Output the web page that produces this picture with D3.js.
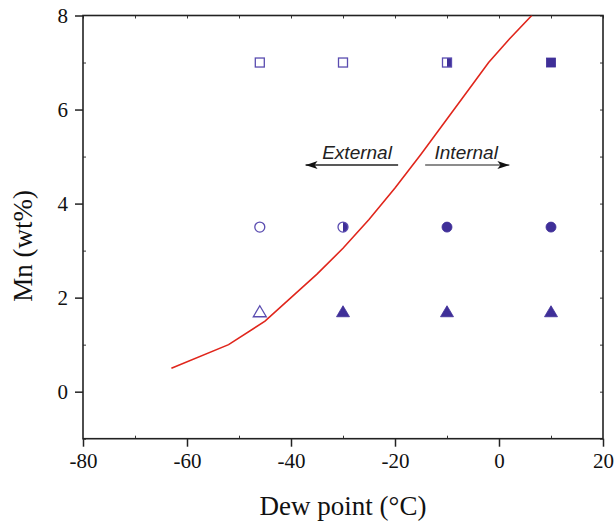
<!DOCTYPE html>
<html><head><meta charset="utf-8">
<script src="https://cdn.jsdelivr.net/npm/d3@7/dist/d3.min.js"></script>
<style>body{margin:0;background:#fff}svg{display:block}</style>
</head><body><svg id="c" width="614" height="521"></svg>
<script>
// Boundary curve (dew point vs Mn)
const curveX = [-63, -52, -45, -40, -35, -30, -25, -20, -15, -10, -5, -2, 2, 6.3];
const curveY = [0.5, 1.0, 1.5, 2.0, 2.5, 3.05, 3.66, 4.33, 5.05, 5.8, 6.55, 7.0, 7.5, 8.0];
// Experimental points
const dewPoints = [-46, -30, -10, 10];
const mnLevels = [7, 3.5, 1.7];
const shapes = ["square", "circle", "triangle"];
// fill state per level: 0 open, 1 half (right), 2 filled
const fillStates = [
  [0, 0, 1, 2],
  [0, 1, 2, 2],
  [0, 2, 2, 2]
];
const xTicks = [-80, -60, -40, -20, 0, 20];
const yTicks = [0, 2, 4, 6, 8];
const xMinor = [-70, -50, -30, -10, 10];
const yMinor = [-1, 1, 3, 5, 7];

const svg = d3.select("#c");
const L = 83, R = 603, T = 15.5, B = 438.7;
const x = d3.scaleLinear().domain([-80, 20]).range([L, R]);
const y = d3.scaleLinear().domain([-1, 8]).range([B, T]);
const purple = "#3f2f98";
const serif = "'Liberation Serif','Times New Roman',serif";
const fmt = d => String(d);

// defs
const defs = svg.append("defs");
defs.append("clipPath").attr("id", "plotclip").append("rect")
  .attr("x", L).attr("y", T).attr("width", R - L).attr("height", B - T);
defs.append("marker").attr("id", "ah").attr("viewBox", "0 0 12 10")
  .attr("refX", 12).attr("refY", 5).attr("markerWidth", 12).attr("markerHeight", 10)
  .attr("markerUnits", "userSpaceOnUse").attr("orient", "auto")
  .append("path").attr("d", "M0,1 L12,5 L0,9 L3,5 Z").attr("fill", "#111");

// axes
const ax = svg.append("g").attr("font-family", serif);
ax.append("g").attr("transform", `translate(0,${B})`)
  .call(d3.axisBottom(x).tickValues(xTicks).tickSize(8).tickPadding(6).tickFormat(fmt))
  .call(g => { g.select(".domain").remove(); g.selectAll("text").attr("font-size", 21).attr("font-family", serif).attr("fill", "#111"); g.selectAll("line").attr("stroke", "#222").attr("stroke-width", 1.5); });
ax.append("g").attr("transform", `translate(${L},0)`)
  .call(d3.axisLeft(y).tickValues(yTicks).tickSize(8).tickPadding(7).tickFormat(fmt))
  .call(g => { g.select(".domain").remove(); g.selectAll("text").attr("font-size", 21).attr("font-family", serif).attr("fill", "#111"); g.selectAll("line").attr("stroke", "#222").attr("stroke-width", 1.5); });
// minor ticks (inward)
ax.append("g").attr("transform", `translate(0,${B})`)
  .call(d3.axisBottom(x).tickValues(xMinor).tickSize(-3).tickFormat(""))
  .call(g => { g.select(".domain").remove(); g.selectAll("line").attr("stroke", "#333"); });
ax.append("g").attr("transform", `translate(${L},0)`)
  .call(d3.axisLeft(y).tickValues(yMinor).tickSize(-3).tickFormat(""))
  .call(g => { g.select(".domain").remove(); g.selectAll("line").attr("stroke", "#333"); });
ax.append("g").attr("transform", `translate(0,${T})`)
  .call(d3.axisTop(x).tickValues(xTicks.concat(xMinor)).tickSize(-3).tickFormat(""))
  .call(g => { g.select(".domain").remove(); g.selectAll("line").attr("stroke", "#333"); });
ax.append("g").attr("transform", `translate(${R},0)`)
  .call(d3.axisRight(y).tickValues(yTicks.concat(yMinor)).tickSize(-3).tickFormat(""))
  .call(g => { g.select(".domain").remove(); g.selectAll("line").attr("stroke", "#333"); });
// frame
svg.append("rect").attr("x", L).attr("y", T).attr("width", R - L).attr("height", B - T)
  .attr("fill", "none").attr("stroke", "#222").attr("stroke-width", 1.6);

// axis titles
svg.append("text").attr("x", (L + R) / 2).attr("y", 515).attr("text-anchor", "middle")
  .attr("font-family", serif).attr("font-size", 27).attr("fill", "#111").text("Dew point (°C)");
svg.append("text").attr("transform", "translate(32,246) rotate(-90)").attr("text-anchor", "middle")
  .attr("font-family", serif).attr("font-size", 27).attr("fill", "#111").text("Mn (wt%)");

// curve
svg.append("path").datum(curveX.map((d, i) => [d, curveY[i]]))
  .attr("clip-path", "url(#plotclip)")
  .attr("d", d3.line().x(d => x(d[0])).y(d => y(d[1])))
  .attr("fill", "none").attr("stroke", "#e0261c").attr("stroke-width", 1.6);

// markers
const mg = svg.append("g");
let cid = 0;
mnLevels.forEach((mn, li) => {
  dewPoints.forEach((dp, di) => {
    const cx = x(dp), cy = y(mn), st = fillStates[li][di], sh = shapes[li];
    let shapeFn;
    if (sh === "square") {
      shapeFn = g => g.append("rect").attr("x", cx - 4.5).attr("y", cy - 4.5).attr("width", 9).attr("height", 9);
    } else if (sh === "circle") {
      shapeFn = g => g.append("circle").attr("cx", cx).attr("cy", cy).attr("r", 5);
    } else {
      shapeFn = g => g.append("path").attr("d", `M${cx},${cy - 6} L${cx + 6.5},${cy + 5} L${cx - 6.5},${cy + 5} Z`);
    }
    if (st === 2) {
      shapeFn(mg).attr("fill", purple).attr("stroke", purple).attr("stroke-width", 0.8);
    } else {
      if (st === 1) {
        const id = "hc" + (cid++);
        defs.append("clipPath").attr("id", id).append("rect")
          .attr("x", cx).attr("y", cy - 10).attr("width", 10).attr("height", 20);
        shapeFn(mg).attr("fill", purple).attr("clip-path", `url(#${id})`);
      }
      shapeFn(mg).attr("fill", "none").attr("stroke", "#5a4cb0").attr("stroke-width", 1.3);
    }
  });
});

// annotations
const sans = "'Liberation Sans',Arial,sans-serif";
svg.append("line").attr("x1", x(-19.4)).attr("x2", x(-37.2)).attr("y1", y(4.82)).attr("y2", y(4.82))
  .attr("stroke", "#222").attr("stroke-width", 1.4).attr("marker-end", "url(#ah)");
svg.append("line").attr("x1", x(-14.2)).attr("x2", x(2.0)).attr("y1", y(4.82)).attr("y2", y(4.82))
  .attr("stroke", "#666").attr("stroke-width", 1.6).attr("marker-end", "url(#ah)");
svg.append("text").attr("x", x(-34.0)).attr("y", y(4.94)).attr("font-family", sans)
  .attr("font-style", "italic").attr("font-size", 19).attr("fill", "#222").text("External");
svg.append("text").attr("x", x(-12.4)).attr("y", y(4.94)).attr("font-family", sans)
  .attr("font-style", "italic").attr("font-size", 19).attr("fill", "#222").text("Internal");
</script></body></html>
